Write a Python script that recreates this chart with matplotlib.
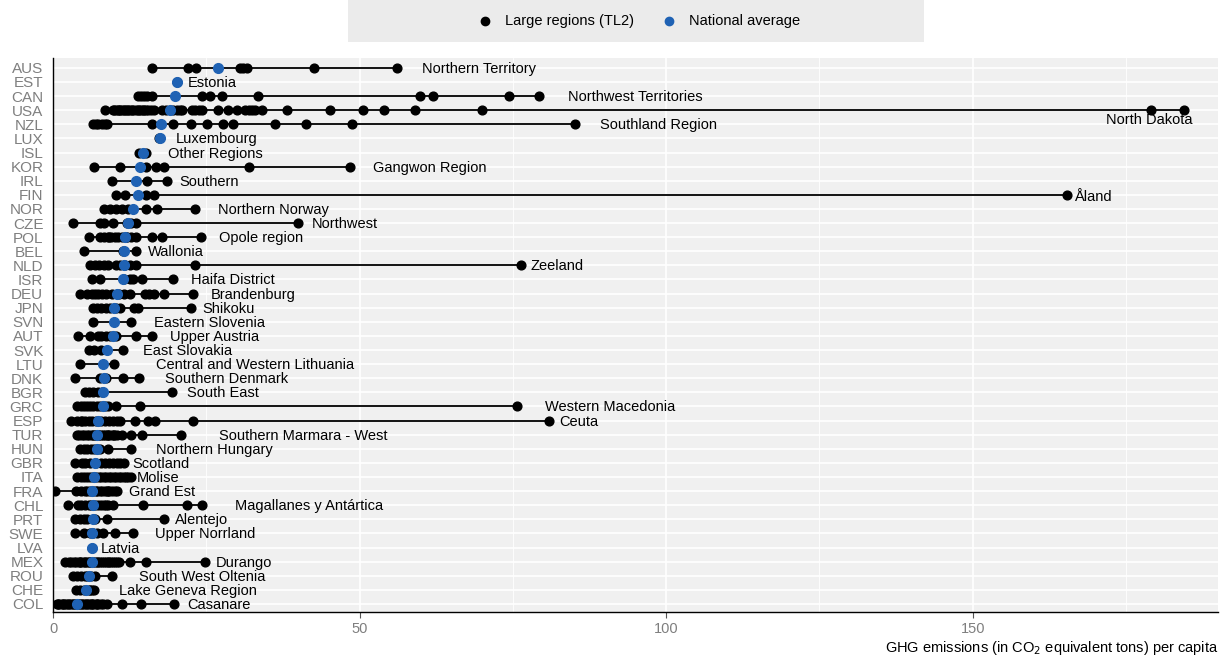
"""GHG emissions per capita: large regions (TL2) vs national average, by country."""

import matplotlib

matplotlib.use("Agg")
import matplotlib.pyplot as plt
from matplotlib.lines import Line2D
from matplotlib.patches import Rectangle
from matplotlib.ticker import MultipleLocator

plt.rcParams["font.family"] = ["Liberation Sans", "DejaVu Sans"]

countries = [
    "AUS", "EST", "CAN", "USA", "NZL", "LUX", "ISL", "KOR", "IRL", "FIN",
    "NOR", "CZE", "POL", "BEL", "NLD", "ISR", "DEU", "JPN", "SVN", "AUT",
    "SVK", "LTU", "DNK", "BGR", "GRC", "ESP", "TUR", "HUN", "GBR", "ITA",
    "FRA", "CHL", "PRT", "SWE", "LVA", "MEX", "ROU", "CHE", "COL",
]

national_avg = [
    26.9, 20.3, 19.9, 19.1, 17.6, 17.5, 14.7, 14.2, 13.6, 13.8,
    13.0, 12.3, 11.7, 11.6, 11.6, 11.4, 10.5, 10.0, 10.0, 9.8,
    8.8, 8.2, 8.3, 8.2, 8.1, 7.4, 7.2, 7.2, 6.9, 6.7,
    6.3, 6.5, 6.5, 6.3, 6.3, 6.3, 5.8, 5.4, 3.9,
]

max_region = [
    "Northern Territory", "Estonia", "Northwest Territories", "North Dakota",
    "Southland Region", "Luxembourg", "Other Regions", "Gangwon Region",
    "Southern", "Åland", "Northern Norway", "Northwest", "Opole region",
    "Wallonia", "Zeeland", "Haifa District", "Brandenburg", "Shikoku",
    "Eastern Slovenia", "Upper Austria", "East Slovakia",
    "Central and Western Lithuania", "Southern Denmark", "South East",
    "Western Macedonia", "Ceuta", "Southern Marmara - West",
    "Northern Hungary", "Scotland", "Molise", "Grand Est",
    "Magallanes y Antártica", "Alentejo", "Upper Norrland", "Latvia",
    "Durango", "South West Oltenia", "Lake Geneva Region", "Casanare",
]

regions = {
    "AUS": [16.2, 22.0, 23.4, 30.5, 31.0, 31.6, 42.5, 56.1],
    "EST": [20.3],
    "CAN": [13.9, 14.3, 14.8, 15.4, 16.1, 24.3, 25.6, 27.5, 33.5, 59.8, 62.0, 74.4, 79.3],
    "USA": [8.5, 9.8, 10.0, 10.3, 10.6, 10.8, 11.0, 11.2, 11.5, 11.7, 12.0, 12.2,
            12.6, 12.9, 13.1, 13.5, 13.8, 14.0, 14.4, 14.7, 14.9, 15.2, 15.5, 16.0,
            16.5, 17.8, 18.5, 19.6, 20.2, 20.7, 21.1, 22.7, 23.2, 23.8, 24.3, 26.9,
            28.5, 30.0, 31.3, 31.9, 32.5, 33.0, 34.1, 38.2, 45.2, 50.6, 54.0, 59.0,
            69.9, 179.0, 184.5],
    "NZL": [6.6, 7.0, 7.3, 8.0, 8.4, 8.8, 16.1, 19.5, 22.5, 25.1, 27.7, 29.3,
            36.2, 41.2, 48.8, 85.2],
    "LUX": [17.3],
    "ISL": [14.0, 15.2],
    "KOR": [6.7, 10.9, 15.2, 16.8, 18.1, 31.9, 48.5],
    "IRL": [9.6, 15.4, 18.6],
    "FIN": [10.3, 11.7, 15.2, 16.4, 165.4],
    "NOR": [8.3, 9.3, 10.3, 11.2, 12.3, 15.2, 16.9, 23.2],
    "CZE": [3.3, 7.7, 8.3, 9.8, 12.0, 12.8, 13.5, 39.9],
    "POL": [5.9, 7.7, 8.3, 8.9, 9.2, 9.5, 10.1, 10.6, 11.2, 11.9, 12.1, 12.8,
            13.6, 16.1, 17.7, 24.1],
    "BEL": [5.1, 11.4, 13.6],
    "NLD": [6.0, 6.8, 7.5, 8.3, 9.0, 10.3, 11.0, 11.8, 12.5, 13.6, 23.2, 76.3],
    "ISR": [6.3, 7.7, 11.5, 12.6, 13.1, 14.5, 19.6],
    "DEU": [4.4, 5.6, 6.4, 6.9, 7.3, 8.0, 8.7, 9.6, 10.8, 11.5, 12.6, 15.0,
            15.7, 16.4, 18.1, 22.9],
    "JPN": [6.5, 7.2, 7.9, 8.6, 9.3, 10.3, 11.0, 13.2, 13.8, 22.5],
    "SVN": [6.6, 12.8],
    "AUT": [4.0, 6.0, 7.4, 7.9, 8.7, 9.3, 10.3, 13.6, 16.2],
    "SVK": [5.8, 6.7, 7.8, 11.4],
    "LTU": [4.4, 10.0],
    "DNK": [3.6, 7.7, 8.6, 11.4, 14.1],
    "BGR": [5.2, 5.8, 6.5, 7.4, 8.0, 19.4],
    "GRC": [3.9, 4.5, 5.0, 5.5, 6.0, 6.5, 7.1, 7.7, 8.5, 9.0, 10.3, 14.2, 75.7],
    "ESP": [3.0, 3.9, 4.5, 4.8, 5.2, 5.8, 6.3, 7.0, 7.8, 8.5, 9.1, 9.8, 10.4,
            10.9, 13.4, 15.5, 16.6, 22.9, 80.9],
    "TUR": [3.9, 4.3, 4.7, 5.1, 5.5, 5.9, 6.3, 6.6, 6.8, 7.0, 7.3, 7.5, 7.9,
            8.1, 8.4, 8.8, 9.0, 9.2, 9.6, 9.9, 10.0, 10.4, 11.3, 12.7, 14.5, 20.9],
    "HUN": [4.4, 5.0, 5.6, 6.2, 6.7, 7.6, 8.9, 12.8],
    "GBR": [3.6, 4.7, 5.3, 6.0, 7.0, 7.9, 8.5, 9.1, 9.8, 10.4, 10.9, 11.5],
    "ITA": [3.9, 4.5, 5.0, 5.5, 6.0, 6.5, 7.0, 7.5, 7.9, 8.3, 8.7, 9.1, 9.5,
            9.9, 10.3, 10.7, 11.1, 11.5, 11.9, 12.3, 12.7],
    "FRA": [0.3, 3.8, 4.5, 5.2, 5.6, 6.0, 6.6, 7.0, 7.2, 7.6, 8.0, 8.4, 8.8,
            9.0, 9.2, 9.6, 10.1, 10.4],
    "CHL": [2.5, 4.1, 4.6, 5.2, 5.9, 6.2, 6.8, 7.3, 7.8, 8.3, 8.7, 9.0, 9.8,
            14.6, 21.8, 24.3],
    "PRT": [3.6, 4.4, 5.0, 5.6, 6.8, 8.8, 18.1],
    "SWE": [3.6, 5.1, 6.0, 6.6, 7.2, 8.1, 10.1, 13.0],
    "LVA": [6.3],
    "MEX": [2.0, 2.6, 3.0, 3.4, 3.8, 4.2, 4.4, 4.6, 5.0, 5.3, 5.6, 5.9, 6.0,
            6.2, 6.5, 6.8, 7.1, 7.4, 7.7, 8.0, 8.3, 8.6, 8.9, 9.2, 9.5, 9.8,
            10.1, 10.4, 10.8, 12.6, 15.2, 24.8],
    "ROU": [3.3, 3.9, 4.5, 5.2, 5.6, 6.2, 6.9, 9.6],
    "CHE": [3.8, 4.4, 5.0, 5.8, 6.1, 6.4, 6.7],
    "COL": [0.6, 0.8, 1.0, 1.4, 1.6, 1.8, 2.2, 2.4, 2.6, 3.0, 3.2, 3.4, 3.8,
            4.0, 4.2, 4.6, 4.8, 5.0, 5.4, 5.6, 5.8, 6.2, 6.4, 6.6, 7.0, 7.2,
            7.4, 7.8, 8.2, 8.8, 11.2, 14.4, 19.8],
}

# horizontal label nudges in pixels (the original used repelled labels)
label_nudge = [
    25, 10, 29, 0, 25, 17, 22, 23, 12, 7, 23, 14, 18, 12, 10, 18, 17, 11, 23,
    18, 20, 42, 26, 15, 28, 10, 38, 25, 9, 6, 12, 33, 11, 22, 9, 11, 27, 25, 13,
]

BLUE = "#1f62b4"
PANEL = "#f0f0f0"

fig = plt.figure(figsize=(12.28, 6.62), dpi=100)
ax = fig.add_axes([53 / 1228, 50 / 662, 1165 / 1228, 554 / 662])
ax.set_facecolor(PANEL)

for i, c in enumerate(countries):
    vals = regions[c]
    ax.plot([min(vals), max(vals)], [i, i], color="black", lw=1.3, zorder=2)
    ax.plot(vals, [i] * len(vals), "o", color="black", ms=6.3, zorder=3)
    ax.plot(national_avg[i], i, "o", color=BLUE, ms=7, zorder=4)

    if c == "USA":
        # this one sits under its point, right-aligned
        ax.annotate(max_region[i], (max(vals), i), xytext=(8, -10),
                    textcoords="offset pixels", ha="right", va="center", fontsize=10.5)
    else:
        dy = -2 if c == "FIN" else -1
        ax.annotate(max_region[i], (max(vals), i), xytext=(label_nudge[i], dy),
                    textcoords="offset pixels", ha="left", va="center", fontsize=10.5)

ax.set_xlim(0, 190)
ax.set_ylim(len(countries) - 1 + 0.57, -0.7)
ax.set_yticks(range(len(countries)))
ax.set_yticklabels(countries)
ax.xaxis.set_major_locator(MultipleLocator(50))
ax.xaxis.set_minor_locator(MultipleLocator(25))
ax.grid(which="major", color="white", lw=1.2)
ax.grid(which="minor", axis="x", color="white", lw=0.6)
ax.set_axisbelow(True)

for side in ("top", "right"):
    ax.spines[side].set_visible(False)
for side in ("left", "bottom"):
    ax.spines[side].set_color("black")
    ax.spines[side].set_linewidth(1.0)

ax.tick_params(axis="y", length=0, labelsize=11, labelcolor="#7f7f7f", pad=7)
ax.tick_params(axis="x", which="major", length=4, color="#555555",
               labelsize=10.5, labelcolor="#7f7f7f", pad=3)
ax.tick_params(axis="x", which="minor", length=0)

fig.text(1218 / 1228, 1 - 648 / 662,
         "GHG emissions (in CO$_2$ equivalent tons) per capita",
         ha="right", va="center", fontsize=10.5)

# legend strip at the top
fig.add_artist(Rectangle((348 / 1228, 1 - 42 / 662), 576 / 1228, 42 / 662,
                         transform=fig.transFigure, facecolor="#ebebeb",
                         edgecolor="none"))
ly = 1 - 21 / 662
fig.add_artist(Line2D([485 / 1228], [ly], marker="o", color="black", ms=6,
                      transform=fig.transFigure))
fig.text(505 / 1228, ly, "Large regions (TL2)", ha="left", va="center", fontsize=10.5)
fig.add_artist(Line2D([669 / 1228], [ly], marker="o", color=BLUE, ms=6,
                      transform=fig.transFigure))
fig.text(689 / 1228, ly, "National average", ha="left", va="center", fontsize=10.5)

fig.savefig("out.png", dpi=100)
